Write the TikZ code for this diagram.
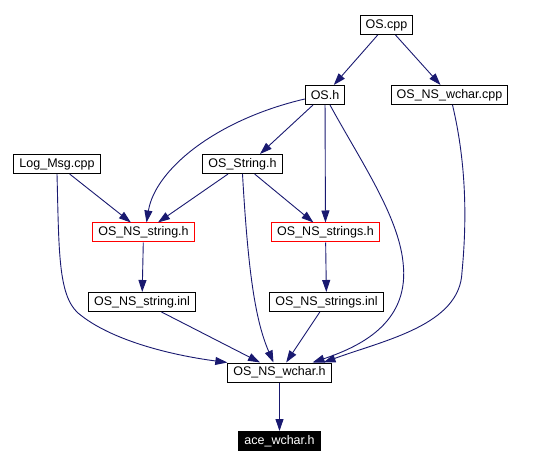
\documentclass[tikz,border=0pt]{standalone}
\usepackage{fontspec}
\setmainfont{Liberation Sans}
\usetikzlibrary{arrows.meta}
\definecolor{edgeblue}{RGB}{25,25,112}

\begin{document}
\begin{tikzpicture}[
    x=1pt, y=-1pt,
    file/.style={rectangle, draw=black, line width=1pt, fill=white, inner xsep=5.5pt, inner ysep=0pt, minimum height=19pt, font=\fontsize{12.5}{14}\selectfont},
    redfile/.style={file, draw=red},
    topfile/.style={file, fill=black, text=white},
    dep/.style={draw=edgeblue, line width=0.9pt, -{Triangle[length=12pt,width=8pt]}}
]
\useasboundingbox (0,0) rectangle (533,465);

% Files
\node[file] (oscpp) at (386.5,25) {OS.cpp};
\node[file] (osh) at (325,95) {OS.h};
\node[file] (oswcharcpp) at (449.5,95) {OS\_NS\_wchar.cpp};
\node[file] (logmsg) at (57,164) {Log\_Msg.cpp};
\node[file] (osstring) at (242.5,164) {OS\_String.h};

% Headers with inline files
\node[redfile] (osnsstring) at (143.5,232.5) {OS\_NS\_string.h};
\node[redfile] (osnsstrings) at (325.5,232.5) {OS\_NS\_strings.h};
\node[file] (osnsstringinl) at (142,302) {OS\_NS\_string.inl};
\node[file] (osnsstringsinl) at (326.5,302) {OS\_NS\_strings.inl};

% Bottom
\node[file] (oswcharh) at (279.5,372.5) {OS\_NS\_wchar.h};
\node[topfile] (acewchar) at (279.5,441) {ace\_wchar.h};

% Includes
\draw[dep] (oscpp) -- (osh);
\draw[dep] (oscpp) -- (oswcharcpp);
\draw[dep] ([yshift=-4pt]osh.west) .. controls (215,120) and (155,170) .. ([xshift=3pt]osnsstring.north);
\draw[dep] ([xshift=-12pt]osh.south) -- ([xshift=17.5pt]osstring.north);
\draw[dep] (osh) -- (osnsstrings);
\draw[dep] ([xshift=5pt]osh.south) .. controls (360,160) and (398,215) .. (403,262)
    .. controls (410,320) and (365,345) .. ([xshift=33pt]oswcharh.north);
\draw[dep] ([xshift=3pt]oswcharcpp.south) .. controls (468,170) and (466,230) .. (462,272)
    .. controls (460,325) and (385,340) .. ([xshift=44pt]oswcharh.north);
\draw[dep] (logmsg) -- (osnsstring);
\draw[dep] (logmsg.south) .. controls (59,250) and (58,295) .. (78,313)
    .. controls (110,340) and (170,355) .. (oswcharh.north west);
\draw[dep] (osstring) -- (osnsstring);
\draw[dep] (osstring) -- (osnsstrings);
\draw[dep] (osstring.south) .. controls (248,270) and (255,320) .. ([xshift=-6pt]oswcharh.north);
\draw[dep] (osnsstring) -- (osnsstringinl);
\draw[dep] (osnsstrings) -- (osnsstringsinl);
\draw[dep] (osnsstringinl) -- (oswcharh);
\draw[dep] (osnsstringsinl) -- (oswcharh);
\draw[dep] (oswcharh) -- (acewchar);

\end{tikzpicture}
\end{document}
